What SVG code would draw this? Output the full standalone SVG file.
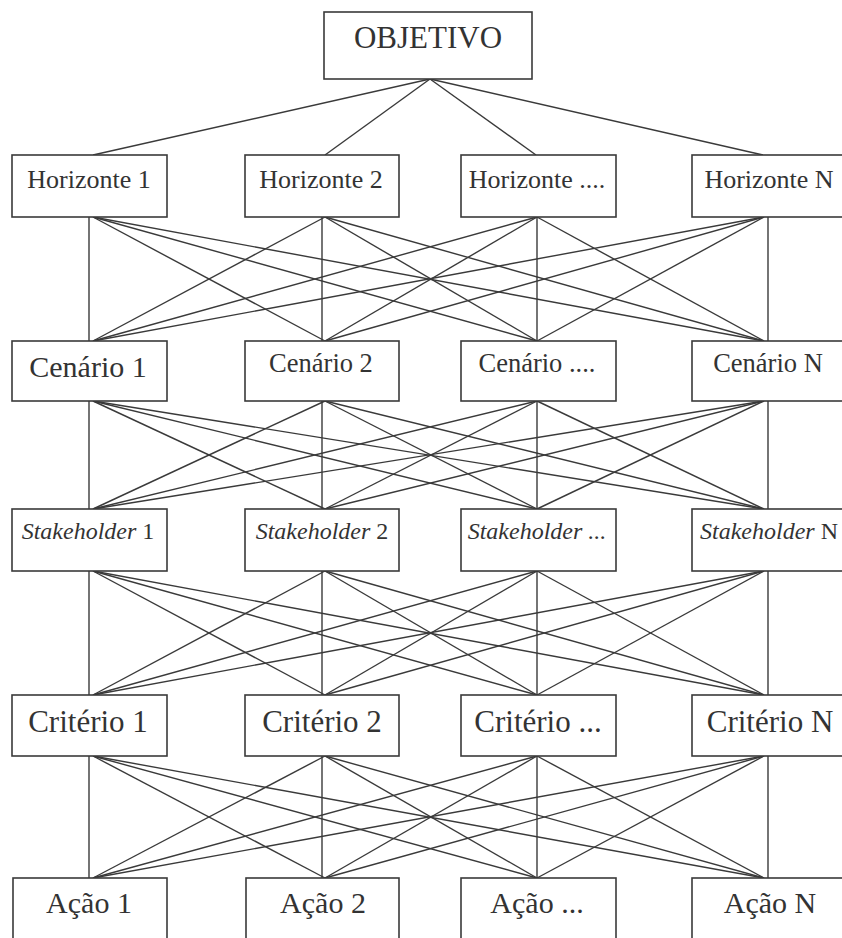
<svg xmlns="http://www.w3.org/2000/svg" width="842" height="938" viewBox="0 0 842 938">
  <style>
    .box { fill: #ffffff; stroke: #3a3a3a; stroke-width: 1.6; }
    .lbl { font-family: "Liberation Serif", "Times New Roman", serif; fill: #333333; text-anchor: middle; }
    .it { font-style: italic; }
    #connectors line { stroke: #3a3a3a; stroke-width: 1.4; }
  </style>
  <rect width="842" height="938" fill="#ffffff"/>

  <g id="connectors">
    <!-- objective to horizons -->
    <line x1="430" y1="79" x2="93" y2="155"/>
    <line x1="430" y1="79" x2="325" y2="155"/>
    <line x1="430" y1="79" x2="536" y2="155"/>
    <line x1="430" y1="79" x2="763" y2="155"/>

    <!-- horizons to scenarios -->
    <line x1="89" y1="217" x2="89" y2="341"/>
    <line x1="93" y1="217" x2="325" y2="341"/>
    <line x1="93" y1="217" x2="537" y2="341"/>
    <line x1="93" y1="217" x2="764" y2="341"/>
    <line x1="322" y1="217" x2="322" y2="341"/>
    <line x1="325" y1="217" x2="93" y2="341"/>
    <line x1="325" y1="217" x2="537" y2="341"/>
    <line x1="325" y1="217" x2="764" y2="341"/>
    <line x1="537" y1="217" x2="537" y2="341"/>
    <line x1="537" y1="217" x2="93" y2="341"/>
    <line x1="537" y1="217" x2="325" y2="341"/>
    <line x1="537" y1="217" x2="764" y2="341"/>
    <line x1="768" y1="217" x2="768" y2="341"/>
    <line x1="764" y1="217" x2="93" y2="341"/>
    <line x1="764" y1="217" x2="325" y2="341"/>
    <line x1="764" y1="217" x2="537" y2="341"/>

    <!-- scenarios to stakeholders -->
    <line x1="89" y1="401" x2="89" y2="509"/>
    <line x1="93" y1="401" x2="325" y2="509"/>
    <line x1="93" y1="401" x2="537" y2="509"/>
    <line x1="93" y1="401" x2="764" y2="509"/>
    <line x1="322" y1="401" x2="322" y2="509"/>
    <line x1="325" y1="401" x2="93" y2="509"/>
    <line x1="325" y1="401" x2="537" y2="509"/>
    <line x1="325" y1="401" x2="764" y2="509"/>
    <line x1="537" y1="401" x2="537" y2="509"/>
    <line x1="537" y1="401" x2="93" y2="509"/>
    <line x1="537" y1="401" x2="325" y2="509"/>
    <line x1="537" y1="401" x2="764" y2="509"/>
    <line x1="768" y1="401" x2="768" y2="509"/>
    <line x1="764" y1="401" x2="93" y2="509"/>
    <line x1="764" y1="401" x2="325" y2="509"/>
    <line x1="764" y1="401" x2="537" y2="509"/>

    <!-- stakeholders to criteria -->
    <line x1="89" y1="571" x2="89" y2="695"/>
    <line x1="93" y1="571" x2="325" y2="695"/>
    <line x1="93" y1="571" x2="537" y2="695"/>
    <line x1="93" y1="571" x2="764" y2="695"/>
    <line x1="322" y1="571" x2="322" y2="695"/>
    <line x1="325" y1="571" x2="93" y2="695"/>
    <line x1="325" y1="571" x2="537" y2="695"/>
    <line x1="325" y1="571" x2="764" y2="695"/>
    <line x1="537" y1="571" x2="537" y2="695"/>
    <line x1="537" y1="571" x2="93" y2="695"/>
    <line x1="537" y1="571" x2="325" y2="695"/>
    <line x1="537" y1="571" x2="764" y2="695"/>
    <line x1="768" y1="571" x2="768" y2="695"/>
    <line x1="764" y1="571" x2="93" y2="695"/>
    <line x1="764" y1="571" x2="325" y2="695"/>
    <line x1="764" y1="571" x2="537" y2="695"/>

    <!-- criteria to actions -->
    <line x1="89" y1="756" x2="89" y2="878"/>
    <line x1="93" y1="756" x2="325" y2="878"/>
    <line x1="93" y1="756" x2="537" y2="878"/>
    <line x1="93" y1="756" x2="764" y2="878"/>
    <line x1="322" y1="756" x2="322" y2="878"/>
    <line x1="325" y1="756" x2="93" y2="878"/>
    <line x1="325" y1="756" x2="537" y2="878"/>
    <line x1="325" y1="756" x2="764" y2="878"/>
    <line x1="537" y1="756" x2="537" y2="878"/>
    <line x1="537" y1="756" x2="93" y2="878"/>
    <line x1="537" y1="756" x2="325" y2="878"/>
    <line x1="537" y1="756" x2="764" y2="878"/>
    <line x1="768" y1="756" x2="768" y2="878"/>
    <line x1="764" y1="756" x2="93" y2="878"/>
    <line x1="764" y1="756" x2="325" y2="878"/>
    <line x1="764" y1="756" x2="537" y2="878"/>
  </g>

  <!-- goal -->
  <g id="objetivo">
    <rect class="box" x="324" y="12" width="208" height="67"/>
    <text class="lbl" x="428" y="48" font-size="31">OBJETIVO</text>
  </g>

  <!-- horizons -->
  <g id="horizonte-1">
    <rect class="box" x="12" y="155" width="155" height="62"/>
    <text class="lbl" x="89" y="188" font-size="26">Horizonte 1</text>
  </g>
  <g id="horizonte-2">
    <rect class="box" x="245" y="155" width="154" height="62"/>
    <text class="lbl" x="321" y="188" font-size="26">Horizonte 2</text>
  </g>
  <g id="horizonte-3">
    <rect class="box" x="461" y="155" width="155" height="62"/>
    <text class="lbl" x="537" y="188" font-size="26">Horizonte ....</text>
  </g>
  <g id="horizonte-n">
    <rect class="box" x="692" y="155" width="160" height="62"/>
    <text class="lbl" x="769" y="188" font-size="26">Horizonte N</text>
  </g>

  <!-- scenarios -->
  <g id="cenario-1">
    <rect class="box" x="12" y="341" width="155" height="60"/>
    <text class="lbl" x="88" y="377" font-size="30">Cenário 1</text>
  </g>
  <g id="cenario-2">
    <rect class="box" x="245" y="341" width="154" height="60"/>
    <text class="lbl" x="321" y="372" font-size="26.5">Cenário 2</text>
  </g>
  <g id="cenario-3">
    <rect class="box" x="461" y="341" width="155" height="60"/>
    <text class="lbl" x="537" y="372" font-size="26.5">Cenário ....</text>
  </g>
  <g id="cenario-n">
    <rect class="box" x="692" y="341" width="160" height="60"/>
    <text class="lbl" x="768" y="372" font-size="26.5">Cenário N</text>
  </g>

  <!-- stakeholders -->
  <g id="stakeholder-1">
    <rect class="box" x="12" y="509" width="155" height="62"/>
    <text class="lbl" x="88" y="539" font-size="24"><tspan class="it">Stakeholder</tspan> 1</text>
  </g>
  <g id="stakeholder-2">
    <rect class="box" x="245" y="509" width="154" height="62"/>
    <text class="lbl" x="322" y="539" font-size="24"><tspan class="it">Stakeholder</tspan> 2</text>
  </g>
  <g id="stakeholder-3">
    <rect class="box" x="461" y="509" width="155" height="62"/>
    <text class="lbl it" x="537" y="539" font-size="24">Stakeholder ...</text>
  </g>
  <g id="stakeholder-n">
    <rect class="box" x="692" y="509" width="160" height="62"/>
    <text class="lbl" x="769" y="539" font-size="24"><tspan class="it">Stakeholder</tspan> N</text>
  </g>

  <!-- criteria -->
  <g id="criterio-1">
    <rect class="box" x="12" y="695" width="155" height="61"/>
    <text class="lbl" x="88" y="732" font-size="31">Critério 1</text>
  </g>
  <g id="criterio-2">
    <rect class="box" x="245" y="695" width="154" height="61"/>
    <text class="lbl" x="322" y="732" font-size="31">Critério 2</text>
  </g>
  <g id="criterio-3">
    <rect class="box" x="461" y="695" width="155" height="61"/>
    <text class="lbl" x="538" y="732" font-size="31">Critério ...</text>
  </g>
  <g id="criterio-n">
    <rect class="box" x="692" y="695" width="160" height="61"/>
    <text class="lbl" x="770" y="732" font-size="31">Critério N</text>
  </g>

  <!-- actions -->
  <g id="acao-1">
    <rect class="box" x="13" y="878" width="154" height="80"/>
    <text class="lbl" x="89" y="913" font-size="30">Ação 1</text>
  </g>
  <g id="acao-2">
    <rect class="box" x="246" y="878" width="153" height="80"/>
    <text class="lbl" x="323" y="913" font-size="30">Ação 2</text>
  </g>
  <g id="acao-3">
    <rect class="box" x="461" y="878" width="155" height="80"/>
    <text class="lbl" x="537" y="913" font-size="30">Ação ...</text>
  </g>
  <g id="acao-n">
    <rect class="box" x="692" y="878" width="160" height="80"/>
    <text class="lbl" x="770" y="913" font-size="30">Ação N</text>
  </g>
</svg>
